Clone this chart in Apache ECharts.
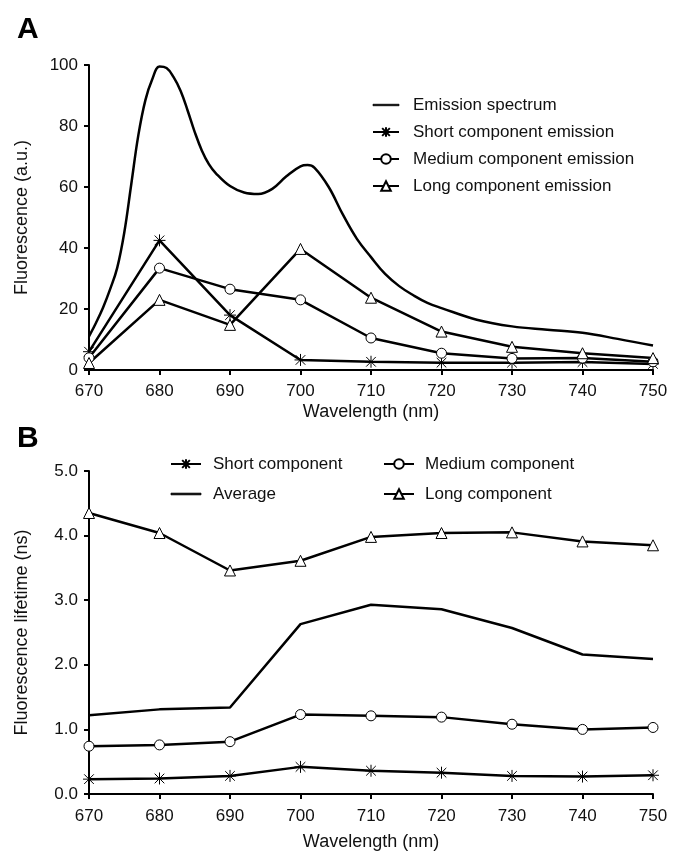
<!DOCTYPE html>
<html>
<head>
<meta charset="utf-8">
<script src="https://cdn.jsdelivr.net/npm/echarts@6/dist/echarts.min.js"></script>
<style>
  html, body { margin: 0; padding: 0; background: #fff; }
  #chart { width: 673px; height: 857px; }
</style>
</head>
<body>
<div id="chart"></div>
<script>
// wavelengths (nm) for the component curves
const wavelengths = [670, 680, 690, 700, 710, 720, 730, 740, 750];

// panel A: emission spectrum
const emissionX = [670, 671, 672, 673, 674, 675, 676, 677, 678, 679, 680, 681, 682, 683, 684, 685, 686, 687, 688, 690, 692, 694, 696, 698, 700, 701, 702, 704, 706, 708, 710, 712, 714, 716, 718, 720, 725, 730, 735, 740, 745, 750];
const emissionY = [11, 15.5, 20.5, 26.5, 33.5, 45, 61, 77, 88.5, 95.5, 99.5, 99, 96, 91.5, 85, 78, 72, 67.5, 64.5, 60.3, 58.2, 57.7, 59.4, 63.5, 66.8, 67.2, 66.3, 60, 51, 43, 37, 31.5, 27.5, 24.5, 22, 20.3, 16.5, 14.3, 13.2, 12.2, 10.2, 8];

// panel A: component emissions
const shortEmission = [6, 42.5, 18, 3.3, 2.7, 2.4, 2.4, 2.6, 2.0];
const mediumEmission = [4, 33.4, 26.5, 23, 10.5, 5.5, 3.8, 3.9, 2.7];
const longEmission = [2.3, 23, 14.8, 39.7, 23.7, 12.6, 7.6, 5.5, 3.9];

// panel B: lifetimes (ns)
const shortLifetime = [0.23, 0.24, 0.28, 0.42, 0.36, 0.33, 0.28, 0.27, 0.29];
const mediumLifetime = [0.74, 0.76, 0.81, 1.23, 1.21, 1.19, 1.08, 1.00, 1.03];
const averageLifetime = [1.22, 1.31, 1.34, 2.63, 2.93, 2.86, 2.57, 2.16, 2.09];
const longLifetime = [4.35, 4.04, 3.46, 3.61, 3.98, 4.04, 4.05, 3.91, 3.85];

const FONT = "'Liberation Sans', Arial, Helvetica, sans-serif";
const STAR = 'path://M0,-1L0,1M-0.8,-0.8L0.8,0.8M-0.8,0.8L0.8,-0.8M-1,0L1,0';
const BAR = 'path://M0,0L18,0L18,1L0,1Z';

function pairs(xs, ys) {
  return xs.map((x, i) => [x, ys[i]]);
}

function xAxisFor(idx, margin, gap) {
  return {
    gridIndex: idx,
    type: 'value',
    min: 670, max: 750, interval: 10,
    name: 'Wavelength (nm)',
    nameLocation: 'middle',
    nameGap: gap,
    nameTextStyle: { fontFamily: FONT, fontSize: 18, color: '#111' },
    axisLine: { show: true, onZero: false, lineStyle: { color: '#000', width: 2 } },
    axisTick: { show: true, length: 5, lineStyle: { color: '#000', width: 2 } },
    axisLabel: { margin: margin, fontFamily: FONT, fontSize: 17, color: '#111' },
    splitLine: { show: false }
  };
}

function yAxisFor(idx, name, max, interval, digits) {
  return {
    gridIndex: idx,
    type: 'value',
    min: 0, max: max, interval: interval,
    name: name,
    nameLocation: 'middle',
    nameGap: 58,
    nameTextStyle: { fontFamily: FONT, fontSize: 18, color: '#111' },
    axisLine: { show: true, lineStyle: { color: '#000', width: 2 } },
    axisTick: { show: true, length: 5, lineStyle: { color: '#000', width: 2 } },
    axisLabel: {
      margin: 11, fontFamily: FONT, fontSize: 17, color: '#111',
      formatter: v => v.toFixed(digits)
    },
    splitLine: { show: false }
  };
}

function lineSeries(name, xi, data, symbol, size) {
  const s = {
    name: name,
    type: 'line',
    xAxisIndex: xi,
    yAxisIndex: xi,
    data: data,
    symbol: symbol,
    symbolSize: size,
    showSymbol: symbol !== 'none',
    lineStyle: { color: '#000', width: 2.5 },
    itemStyle: { color: '#fff', borderColor: '#000', borderWidth: 1 },
    emphasis: { disabled: true }
  };
  if (symbol === STAR || symbol === 'none') {
    s.itemStyle = { color: '#000', borderColor: '#000', borderWidth: 1 };
  }
  return s;
}

var myChart = echarts.init(document.getElementById('chart'), null, { renderer: 'canvas' });

myChart.setOption({
  animation: false,
  backgroundColor: '#fff',
  title: [
    { text: 'A', left: 12, top: 10, textStyle: { fontFamily: FONT, fontSize: 30, fontWeight: 'bold', color: '#000' } },
    { text: 'B', left: 12, top: 419, textStyle: { fontFamily: FONT, fontSize: 30, fontWeight: 'bold', color: '#000' } }
  ],
  legend: [
    {
      left: 367, top: 90, orient: 'vertical',
      itemWidth: 26, itemHeight: 12, itemGap: 7,
      textStyle: { fontFamily: FONT, fontSize: 17, color: '#111', lineHeight: 20, padding: [0, 0, 0, 9] },
      data: [
        { name: 'Emission spectrum', icon: BAR, itemStyle: { borderWidth: 0.8 } },
        'Short component emission', 'Medium component emission', 'Long component emission'
      ]
    },
    {
      left: 165, top: 449, orient: 'vertical',
      itemWidth: 30, itemHeight: 12, itemGap: 10,
      textStyle: { fontFamily: FONT, fontSize: 17, color: '#111', lineHeight: 20, padding: [0, 0, 0, 7] },
      data: ['Short component', { name: 'Average', icon: BAR, itemStyle: { borderWidth: 0.8 } }]
    },
    {
      left: 378, top: 449, orient: 'vertical',
      itemWidth: 30, itemHeight: 12, itemGap: 10,
      textStyle: { fontFamily: FONT, fontSize: 17, color: '#111', lineHeight: 20, padding: [0, 0, 0, 6] },
      data: ['Medium component', 'Long component']
    }
  ],
  grid: [
    { left: 89, right: 20, top: 65, height: 305 },
    { left: 89, right: 20, top: 471, height: 323 }
  ],
  xAxis: [xAxisFor(0, 13, 33), xAxisFor(1, 14, 39)],
  yAxis: [
    yAxisFor(0, 'Fluorescence (a.u.)', 100, 20, 0),
    yAxisFor(1, 'Fluorescence lifetime (ns)', 5, 1, 1)
  ],
  series: [
    Object.assign(lineSeries('Emission spectrum', 0, pairs(emissionX, emissionY), 'none', 0), { smooth: 0.4 }),
    lineSeries('Short component emission', 0, pairs(wavelengths, shortEmission), STAR, 12),
    lineSeries('Medium component emission', 0, pairs(wavelengths, mediumEmission), 'circle', 10),
    lineSeries('Long component emission', 0, pairs(wavelengths, longEmission), 'triangle', 11),
    lineSeries('Short component', 1, pairs(wavelengths, shortLifetime), STAR, 12),
    lineSeries('Average', 1, pairs(wavelengths, averageLifetime), 'none', 0),
    lineSeries('Medium component', 1, pairs(wavelengths, mediumLifetime), 'circle', 10),
    lineSeries('Long component', 1, pairs(wavelengths, longLifetime), 'triangle', 11)
  ]
});
</script>
</body>
</html>
